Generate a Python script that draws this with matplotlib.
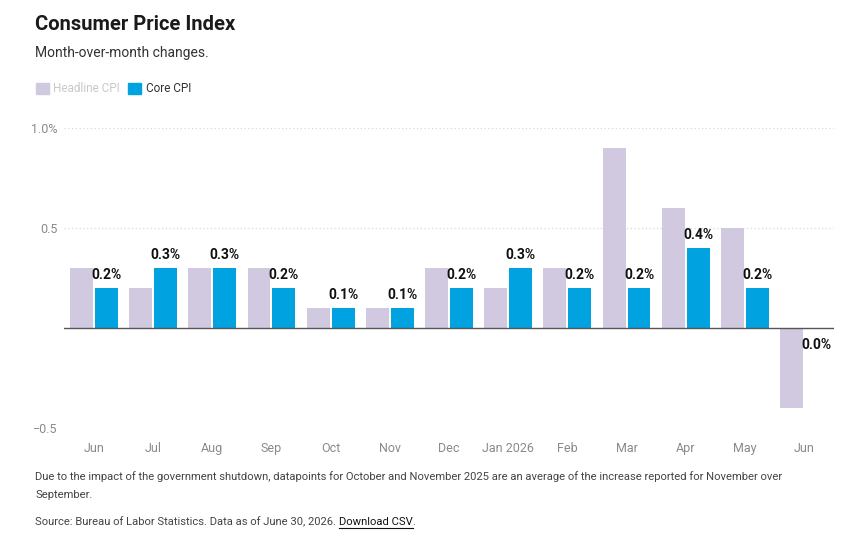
import matplotlib
matplotlib.use("Agg")
import matplotlib.pyplot as plt
from matplotlib.patches import Patch
import numpy as np

plt.rcParams['font.family'] = ['Roboto', 'DejaVu Sans']

# Données (variation mensuelle, %)
months = ["Jun", "Jul", "Aug", "Sep", "Oct", "Nov", "Dec", "Jan 2026",
          "Feb", "Mar", "Apr", "May", "Jun"]
headline = [0.3, 0.2, 0.3, 0.3, 0.1, 0.1, 0.3, 0.2, 0.3, 0.9, 0.6, 0.5, -0.4]
core = [0.2, 0.3, 0.3, 0.2, 0.1, 0.1, 0.2, 0.3, 0.2, 0.2, 0.4, 0.2, 0.0]
yticks = [-0.5, 0.5, 1.0]
ytick_labels = ["\u22120.5", "0.5", "1.0%"]

c_head = "#d0c9e0"
c_core = "#00a3e0"
W, H = 841, 541

fig = plt.figure(figsize=(W / 100, H / 100), dpi=100)
ax = fig.add_axes([64.4 / W, 1 - 428 / H, (833.6 - 64.4) / W, 300 / H])

x = np.arange(len(months))
bw = 23 / 59.2
gap = 2 / 59.2
ax.bar(x - (bw + gap) / 2, headline, width=bw, color=c_head, zorder=2)
ax.bar(x + (bw + gap) / 2, core, width=bw, color=c_core, zorder=2)

# Étiquettes des valeurs "Core"
for xi, v in zip(x, core):
    if v > 0:
        ax.annotate(f"{v:.1f}%", (xi + (bw + gap) / 2, v), xytext=(0, 4),
                    textcoords="offset points", ha="center", va="bottom",
                    fontsize=10, fontweight="bold", color="#111111")
    else:
        ax.annotate(f"{v:.1f}%", (xi + (bw + gap) / 2, v), xytext=(0, -7),
                    textcoords="offset points", ha="center", va="top",
                    fontsize=10, fontweight="bold", color="#111111")

ax.set_xlim(-0.5, len(months) - 0.5)
ax.set_ylim(-0.5, 1.0)
for yt in yticks:
    ax.axhline(yt, color="#d8d8d8", lw=0.9, ls=(0, (1, 2)), zorder=1)
ax.axhline(0, color="#555555", lw=1.0, zorder=3)

ax.set_yticks(yticks)
ax.set_yticklabels(ytick_labels)
ax.set_xticks(x)
ax.set_xticklabels(months)
ax.tick_params(axis="both", length=0, labelsize=9, colors="#8a8a8a")
ax.tick_params(axis="x", pad=10)
ax.tick_params(axis="y", pad=5)
for s in ax.spines.values():
    s.set_visible(False)

# Titre et sous-titre
fig.text(35 / W, 1 - 24 / H, "Consumer Price Index", fontsize=14.5,
         fontweight="bold", color="#1a1a1a", va="center", ha="left")
fig.text(35 / W, 1 - 53 / H, "Month-over-month changes.", fontsize=10,
         color="#333333", va="center", ha="left")

# Légende
handles = [Patch(color=c_head, label="Headline CPI"),
           Patch(color=c_core, label="Core CPI")]
leg = fig.legend(handles=handles, loc="center left",
                 bbox_to_anchor=(25 / W, 1 - 89 / H), ncol=2, frameon=False,
                 fontsize=8.5, handlelength=1.1, handleheight=1.1,
                 handletextpad=0.4, columnspacing=0.7)
leg.get_texts()[0].set_color("#c8c8c8")
leg.get_texts()[1].set_color("#333333")

# Notes
fs_note = 8.1
fig.text(35 / W, 1 - 477 / H,
         "Due to the impact of the government shutdown, datapoints for October "
         "and November 2025 are an average of the increase reported for November over",
         fontsize=fs_note, color="#444444", va="center", ha="left")
fig.text(35 / W, 1 - 495 / H, "September.", fontsize=fs_note, color="#444444",
         va="center", ha="left")
src = fig.text(35 / W, 1 - 522 / H,
               "Source: Bureau of Labor Statistics. Data as of June 30, 2026. ",
               fontsize=fs_note, color="#444444", va="center", ha="left")
fig.canvas.draw()
bb = src.get_window_extent()
dl = fig.text(bb.x1 / W, 1 - 522 / H, "Download CSV", fontsize=fs_note,
              color="#111111", va="center", ha="left")
fig.canvas.draw()
bb2 = dl.get_window_extent()
fig.add_artist(plt.Line2D([bb2.x0 / W, bb2.x1 / W],
                          [(bb2.y0 - 1) / H, (bb2.y0 - 1) / H],
                          color="#111111", lw=0.8))
fig.text(bb2.x1 / W, 1 - 522 / H, ".", fontsize=fs_note, color="#444444",
         va="center", ha="left")

fig.savefig("out.png", dpi=100)
